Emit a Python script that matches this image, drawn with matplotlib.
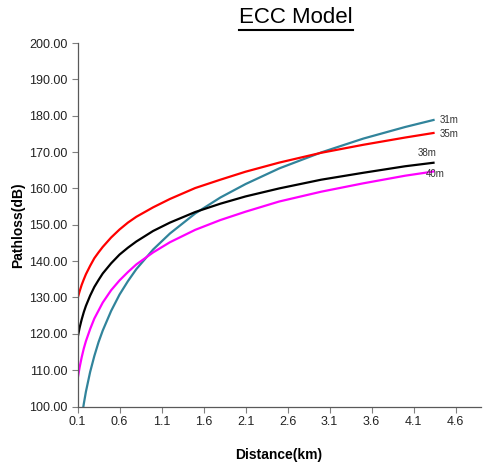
"""ECC model path loss vs distance for four base station heights."""

import matplotlib
matplotlib.use("Agg")
import matplotlib.pyplot as plt
from matplotlib import font_manager
from matplotlib.lines import Line2D
from matplotlib.ticker import FormatStrFormatter

plt.rcParams["font.family"] = ["Liberation Sans", "DejaVu Sans"]

# Distance in km
distance = [0.1, 0.125, 0.15, 0.175, 0.2, 0.25, 0.3, 0.35, 0.4, 0.5, 0.6, 0.7, 0.8,
            1.0, 1.2, 1.5, 1.8, 2.1, 2.5, 3.0, 3.5, 4.0, 4.35]

loss_31m = [87.2, 92.6, 97.0, 100.8, 104.1, 109.5, 113.9, 117.7, 120.9, 126.3, 130.8, 134.5, 137.8,
            143.2, 147.6, 153.1, 157.5, 161.2, 165.5, 169.9, 173.7, 176.9, 178.9]
loss_35m = [129.7, 131.7, 133.5, 135.0, 136.4, 138.7, 140.8, 142.4, 143.9, 146.5, 148.7, 150.6, 152.2,
            154.8, 157.1, 160.1, 162.4, 164.6, 167.1, 169.8, 172.0, 174.0, 175.3]
loss_38m = [118.8, 121.7, 124.0, 126.0, 127.7, 130.5, 132.9, 134.8, 136.6, 139.4, 141.8, 143.7, 145.4,
            148.3, 150.6, 153.5, 155.8, 157.8, 160.0, 162.4, 164.3, 166.1, 167.1]
loss_40m = [107.4, 110.8, 113.6, 116.0, 118.0, 121.3, 124.2, 126.4, 128.6, 132.0, 134.7, 137.0, 139.1,
            142.4, 145.2, 148.6, 151.3, 153.6, 156.4, 159.1, 161.4, 163.5, 164.7]

series_names = ["31m", "35m", "38m", "40m"]
x_ticks = [0.1, 0.6, 1.1, 1.6, 2.1, 2.6, 3.1, 3.6, 4.1, 4.6]
y_ticks = [100, 110, 120, 130, 140, 150, 160, 170, 180, 190, 200]


def title_family():
    # the reference title looks like a narrow sans face
    names = {f.name for f in font_manager.fontManager.ttflist}
    if "Liberation Sans Narrow" in names:
        return ["Liberation Sans Narrow", "DejaVu Sans"], 19
    return ["Liberation Sans", "DejaVu Sans"], 16


def main():
    fig = plt.figure(figsize=(4.83, 4.70), dpi=100)
    ax = fig.add_axes([0.1605, 0.135, 0.835, 0.7735])

    series = [loss_31m, loss_35m, loss_38m, loss_40m]
    colors = ["#31849B", "#FF0000", "#000000", "#FF00FF"]
    # label offsets (points) from the last point of each curve
    offsets = [(4, 0), (4, -1), (-12, 7), (-6, -2)]

    for values, name, color, off in zip(series, series_names, colors, offsets):
        ax.plot(distance, values, color=color, linewidth=1.6, solid_capstyle="butt")
        ax.annotate(name, (distance[-1], values[-1]), xytext=off, textcoords="offset points",
                    fontsize=7, ha="left", va="center", color="#333333")

    ax.set_xlim(0.1, 4.9)
    ax.set_ylim(100, 200)
    ax.set_xticks(x_ticks)
    ax.set_yticks(y_ticks)
    ax.xaxis.set_major_formatter(FormatStrFormatter("%.1f"))
    ax.yaxis.set_major_formatter(FormatStrFormatter("%.2f"))

    for side in ["top", "right"]:
        ax.spines[side].set_visible(False)
    for side in ["left", "bottom"]:
        ax.spines[side].set_color("#595959")
        ax.spines[side].set_linewidth(0.9)

    ax.tick_params(axis="both", direction="out", length=4, width=0.8, color="#808080",
                   labelsize=9, labelcolor="#222222", pad=3)

    ax.set_xlabel("Distance(km)", fontsize=10, fontweight="bold", labelpad=14)
    ax.set_ylabel("Pathloss(dB)", fontsize=10, fontweight="bold", labelpad=3)

    # Underlined title
    family, size = title_family()
    title = fig.text(0.613, 0.962, "ECC Model", fontsize=size, family=family,
                     ha="center", va="center")
    fig.canvas.draw()
    bbox = title.get_window_extent().transformed(fig.transFigure.inverted())
    y_line = bbox.y0 - 0.004
    fig.add_artist(Line2D([bbox.x0, bbox.x1], [y_line, y_line], transform=fig.transFigure,
                          color="black", linewidth=1.5))

    fig.savefig("out.png", dpi=100)


if __name__ == "__main__":
    main()
